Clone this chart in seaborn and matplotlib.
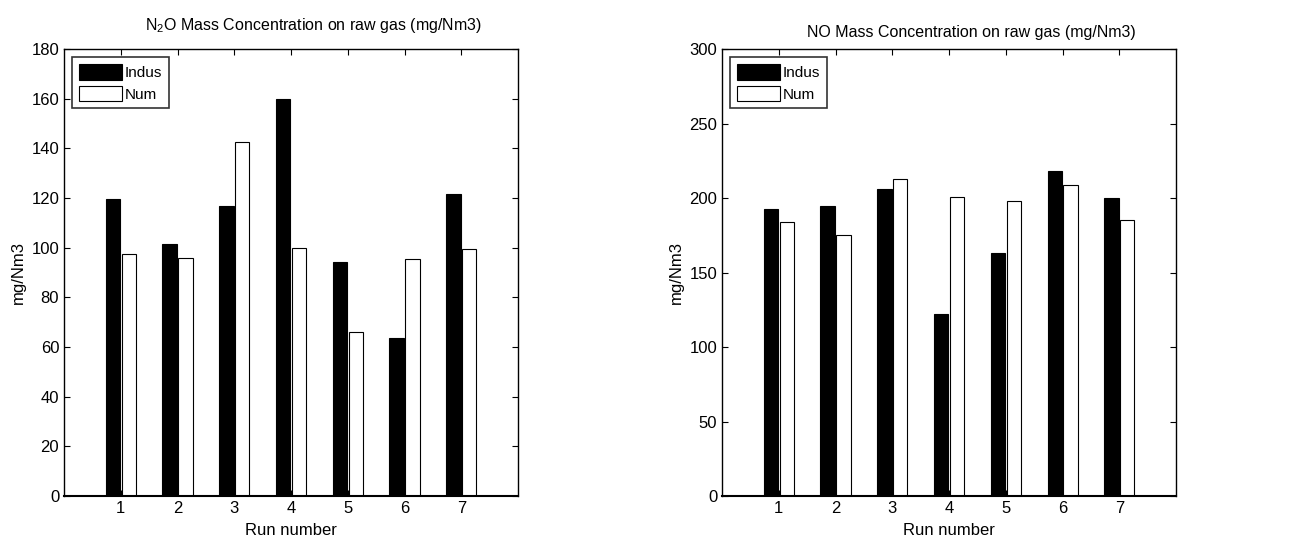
import numpy as np
import pandas as pd
import matplotlib
matplotlib.use("Agg")
import matplotlib.pyplot as plt
from matplotlib.patches import Patch
import seaborn as sns

runs = [1, 2, 3, 4, 5, 6, 7]
n2o_indus = [119.6, 101.6, 116.9, 159.7, 94.4, 63.6, 121.7]
n2o_num = [97.4, 96.0, 142.7, 100.0, 66.0, 95.4, 99.6]
no_indus = [192.8, 194.6, 206.1, 122.1, 163.0, 218.4, 200.0]
no_num = [184.1, 175.1, 212.8, 200.7, 198.0, 208.7, 185.0]
series_names = ["Indus", "Num"]
titles = ["N$_{\\mathregular{2}}$O Mass Concentration on raw gas (mg/Nm3)",
          "NO Mass Concentration on raw gas (mg/Nm3)"]
ylims = [180, 300]
yticks = [list(range(0, 181, 20)), list(range(0, 301, 50))]

sns.set_style("ticks")
plt.rcParams['font.family'] = ['Liberation Sans', 'DejaVu Sans']
plt.rcParams['mathtext.fontset'] = 'custom'
plt.rcParams['mathtext.rm'] = 'Liberation Sans'
plt.rcParams['text.color'] = 'black'
plt.rcParams['axes.labelcolor'] = 'black'
plt.rcParams['xtick.color'] = 'black'
plt.rcParams['ytick.color'] = 'black'

fig = plt.figure(figsize=(13.1, 5.44), dpi=100)
ax1 = fig.add_axes([0.0489, 0.0882, 0.3466, 0.8217])
ax2 = fig.add_axes([0.5512, 0.0882, 0.3466, 0.8217])

def make_df(indus, num):
    return pd.DataFrame({
        "run": runs * 2,
        "value": list(indus) + list(num),
        "series": [series_names[0]] * len(runs) + [series_names[1]] * len(runs),
    })

data = [make_df(n2o_indus, n2o_num), make_df(no_indus, no_num)]
pads = [14, 9]
palette = {"Indus": "black", "Num": "white"}

for i, (ax, df) in enumerate(zip([ax1, ax2], data)):
    sns.barplot(data=df, x="run", y="value", hue="series", native_scale=True,
                palette=palette, width=0.56, gap=0.1, dodge=True,
                edgecolor="black", linewidth=0.8, saturation=1, legend=False,
                errorbar=None, ax=ax)
    ax.set_xlim(0, 8)
    ax.set_ylim(0, ylims[i])
    ax.set_xticks(runs)
    ax.set_xticklabels([str(r) for r in runs])
    ax.set_yticks(yticks[i])
    ax.tick_params(direction="in", top=True, right=True, length=4, width=0.8,
                   labelsize=12, colors="black")
    for s in ax.spines.values():
        s.set_visible(True)
        s.set_color("black")
        s.set_linewidth(1.0)
    ax.spines["bottom"].set_linewidth(1.5)
    ax.set_xlabel("Run number", fontsize=12, labelpad=5, color="black")
    ax.set_ylabel("mg/Nm3", fontsize=12, labelpad=4, color="black")
    ax.set_title(titles[i], fontsize=11.5, x=0.55, pad=pads[i], color="black")
    handles = [Patch(facecolor="black", edgecolor="black", linewidth=0.8),
               Patch(facecolor="white", edgecolor="black", linewidth=0.8)]
    leg = ax.legend(handles, series_names, loc="upper left", fontsize=11,
                    handlelength=2.8, handleheight=1.2, handletextpad=0.15,
                    labelspacing=0.35, borderpad=0.45, borderaxespad=0.55,
                    frameon=True, fancybox=False, edgecolor="black")
    leg.get_frame().set_linewidth(1.2)
    for t in leg.get_texts():
        t.set_color("black")

fig.savefig("out.png", dpi=100)
